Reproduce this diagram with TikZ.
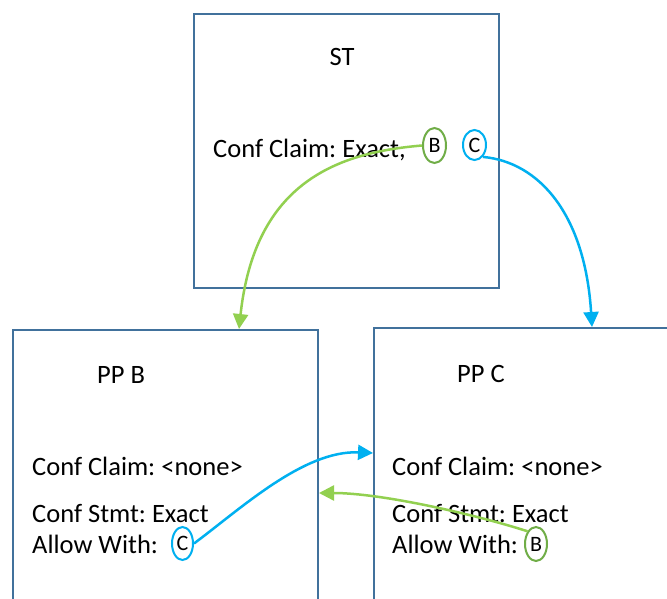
\documentclass[tikz,border=0pt]{standalone}
\usepackage{fontspec}
\setmainfont{Carlito}
\usetikzlibrary{arrows.meta,shapes.geometric}

\definecolor{boxblue}{RGB}{65,113,156}
\definecolor{tagGreen}{RGB}{112,173,71}
\definecolor{lineGreen}{RGB}{146,208,80}
\definecolor{tagBlue}{RGB}{0,176,240}

\frenchspacing

\tikzset{
  x=1pt, y=-1pt,
  panel/.style={draw=boxblue, line width=2pt, rectangle, anchor=north west, inner sep=0pt},
  lbl/.style={anchor=base west, inner sep=0pt, font=\fontsize{26.5}{30}\selectfont},
  title/.style={anchor=base, inner sep=0pt, font=\fontsize{26.5}{30}\selectfont},
  tag/.style={ellipse, line width=2pt, inner sep=0pt, font=\fontsize{22}{26}\selectfont},
  greentag/.style={tag, draw=tagGreen},
  bluetag/.style={tag, draw=tagBlue},
  link/.style={line width=2.5pt, -{Triangle[length=15pt,width=15pt]}},
  greenlink/.style={link, color=lineGreen},
  bluelink/.style={link, color=tagBlue},
}

\begin{document}
\begin{tikzpicture}
  \useasboundingbox (0,0) rectangle (667,599);
  \fill[white] (0,0) rectangle (667,599);
  \clip (0,0) rectangle (667,599);

  % the three panels
  \node[panel, minimum width=305pt, minimum height=274pt] (st) at (193,13) {};
  \node[panel, minimum width=305pt, minimum height=300pt] (ppB) at (12,329) {};
  \node[panel, minimum width=320pt, minimum height=300pt] (ppC) at (373,327) {};

  % ST panel
  \node[title] (stTitle) at (342,66) {ST};
  \node[lbl] (stClaim) at (213,158) {Conf Claim: Exact,};
  \node[greentag, minimum width=23pt, minimum height=35pt] (stB) at (434.5,145.5) {B};
  \node[bluetag, minimum width=23pt, minimum height=30pt] (stC) at (474.5,145) {C};

  % PP B panel
  \node[lbl] (pbTitle) at (97,383) {PP B};
  \node[lbl] (pbClaim) at (32,475) {Conf Claim: <none>};
  \node[lbl] (pbStmt) at (32,522) {Conf Stmt: Exact};
  \node[lbl] (pbAllow) at (32,553) {Allow With:};
  \node[bluetag, minimum width=21pt, minimum height=33pt] (pbC) at (182.5,543.5) {C};

  % PP C panel
  \node[lbl] (pcTitle) at (457,382) {PP C};
  \node[lbl] (pcClaim) at (392,475) {Conf Claim: <none>};
  \node[lbl] (pcStmt) at (392,522) {Conf Stmt: Exact};
  \node[lbl] (pcAllow) at (392,553) {Allow With:};
  \node[greentag, minimum width=22pt, minimum height=34pt] (pcB) at (536,544) {B};

  % connectors
  \draw[greenlink] (stB.west) .. controls +(-83,7) and +(16,-148) .. ([xshift=227pt]ppB.north west);
  \draw[bluelink] (stC.-55) .. controls +(56,5) and +(-7,-113) .. ([xshift=219pt]ppC.north west);
  \draw[bluelink] (pbC.east) .. controls +(47,-35) and +(-69,-3) .. ([yshift=-126pt]ppC.north west);
  \draw[greenlink] (pcB.north west) .. controls +(-53,-17) and +(62,0) .. ([yshift=-164pt]ppB.north east);
\end{tikzpicture}
\end{document}
